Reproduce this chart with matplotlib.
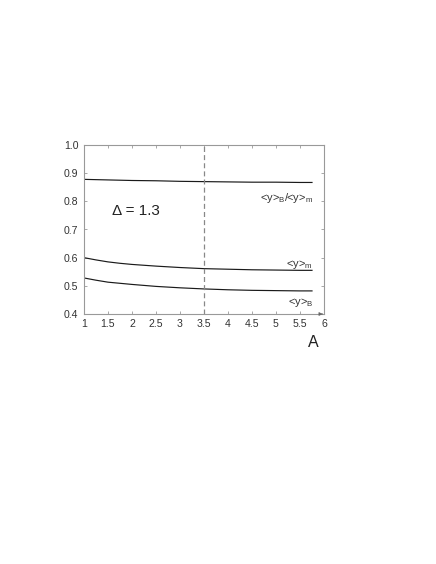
import matplotlib
matplotlib.use("Agg")
import matplotlib.pyplot as plt
import numpy as np

plt.rcParams['font.family'] = ['Liberation Sans', 'DejaVu Sans']

A = [1.0, 1.25, 1.5, 1.75, 2.0, 2.5, 3.0, 3.5, 4.0, 4.5, 5.0, 5.5, 5.75]
ratio = [0.878, 0.877, 0.876, 0.875, 0.874, 0.873, 0.871, 0.870, 0.869, 0.868, 0.868, 0.867, 0.867]
y_m = [0.600, 0.592, 0.585, 0.580, 0.576, 0.570, 0.565, 0.561, 0.559, 0.557, 0.556, 0.555, 0.555]
y_B = [0.528, 0.520, 0.513, 0.509, 0.505, 0.498, 0.493, 0.489, 0.486, 0.484, 0.483, 0.482, 0.482]
xticks = [1, 1.5, 2, 2.5, 3, 3.5, 4, 4.5, 5, 5.5, 6]
xticklabels = ['1', '1.5', '2', '2.5', '3', '3.5', '4', '4.5', '5', '5.5', '6']
yticks = [0.4, 0.5, 0.6, 0.7, 0.8, 0.9, 1.0]
yticklabels = ['0.4', '0.5', '0.6', '0.7', '0.8', '0.9', '1.0']
A_mark = 3.5

fig = plt.figure(figsize=(4.36, 5.64), dpi=100)
ax = fig.add_axes([84/436, 1-314/564, 240/436, 169/564])

for s in [ratio, y_m, y_B]:
    ax.plot(A, s, color='#1a1a1a', lw=0.85)
ax.axvline(A_mark, color='#888888', lw=0.9, ls=(0, (4, 2.5)))

ax.set_xlim(1, 6)
ax.set_ylim(0.4, 1.0)
ax.set_xticks(xticks)
ax.set_xticklabels(xticklabels)
ax.set_yticks(yticks)
ax.set_yticklabels(yticklabels)
ax.tick_params(direction='in', length=2, width=0.6, top=True, right=True,
               labelsize=7.6, colors='#999999', labelcolor='#333333')
ax.tick_params(axis='x', pad=3.5)
ax.tick_params(axis='y', pad=4)
for sp in ax.spines.values():
    sp.set_color('#999999')
    sp.set_linewidth(0.8)

ax.annotate('', xy=(6.03, 0.4), xytext=(5.9, 0.4), xycoords='data',
            arrowprops=dict(arrowstyle='-|>', color='#666666', lw=0.6, mutation_scale=5),
            annotation_clip=False)

tc = '#333333'
ax.text(5.77, 0.811, r'<y>$_\mathregular{B}$/<y>$_\mathregular{m}$', ha='right', va='center', fontsize=8, color=tc)
ax.text(5.77, 0.576, r'<y>$_\mathregular{m}$', ha='right', va='center', fontsize=8, color=tc)
ax.text(5.77, 0.440, r'<y>$_\mathregular{B}$', ha='right', va='center', fontsize=8, color=tc)
ax.text(1.58, 0.766, 'Δ = 1.3', ha='left', va='center', fontsize=11, color='#222222')
ax.text(5.77, 0.30, 'A', ha='center', va='center', fontsize=11.5, color='#222222')

fig.savefig('out.png', dpi=100)
